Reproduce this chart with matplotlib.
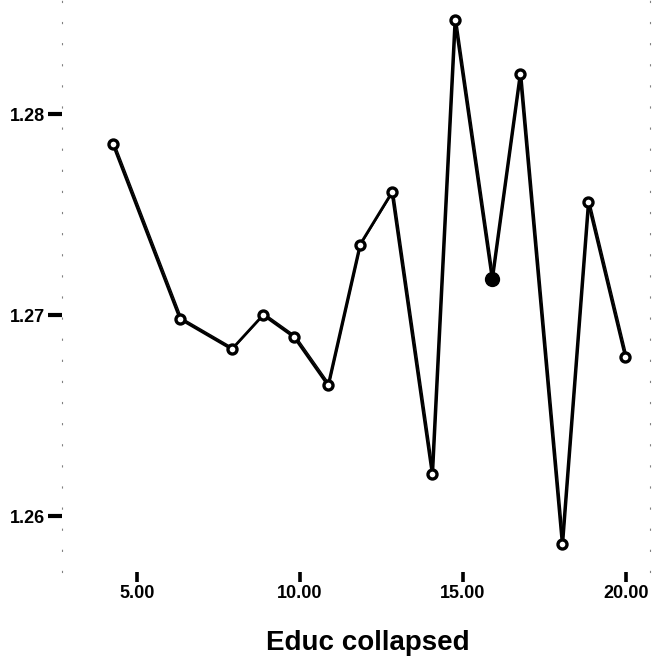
import matplotlib
matplotlib.use("Agg")
from matplotlib import pyplot as plt
from matplotlib import transforms
from matplotlib.ticker import FormatStrFormatter

# mean value per education level (educ collapsed)
educ = [4.26, 6.32, 7.91, 8.87, 9.82, 10.86, 11.84, 12.82, 14.05, 14.75, 15.89, 16.75, 18.04, 18.84, 19.98]
mean_val = [1.2785, 1.2698, 1.2683, 1.2700, 1.2689, 1.2665, 1.2735, 1.2761, 1.2621, 1.2847,
            1.2718, 1.2820, 1.2586, 1.2756, 1.2679]
filled_idx = 10  # the one level drawn as a solid dot

x_ticks = [5, 10, 15, 20]
y_ticks = [1.26, 1.27, 1.28]

plt.rcParams['font.family'] = ['Liberation Sans', 'DejaVu Sans']

fig = plt.figure(figsize=(6.62, 6.60), dpi=100)
W, H = 662, 660
ax = fig.add_axes([62 / W, (H - 572) / H, 588 / W, 572 / H])

# pixel-calibrated limits: 32.6 px per unit on x, 20100 px per unit on y
ax.set_xlim(5 + (62 - 137) / 32.6, 5 + (650 - 137) / 32.6)
ax.set_ylim(1.28 - (572 - 114) / 20100, 1.28 + 114 / 20100)

# main trace plus a faint second stroke for the doubled pen look
ax.plot(educ, mean_val, color='black', lw=2.0, zorder=2)
shift = transforms.offset_copy(ax.transData, fig=fig, x=1.5, y=1.0, units='dots')
ax.plot(educ, mean_val, color='black', lw=1.0, transform=shift, zorder=2)

open_x = [v for i, v in enumerate(educ) if i != filled_idx]
open_y = [v for i, v in enumerate(mean_val) if i != filled_idx]
ax.plot(open_x, open_y, ls='none', marker='o', ms=6.5, mfc='white', mec='black', mew=2.4, zorder=3)
ax.plot(educ[filled_idx], mean_val[filled_idx], ls='none', marker='o', ms=10,
        mfc='black', mec='black', zorder=3)

ax.set_xticks(x_ticks)
ax.set_yticks(y_ticks)
ax.xaxis.set_major_formatter(FormatStrFormatter('%.2f'))
ax.yaxis.set_major_formatter(FormatStrFormatter('%.2f'))
ax.tick_params(axis='x', direction='out', length=7, width=2.6, pad=2, labelsize=13)
ax.tick_params(axis='y', direction='out', length=10, width=3, pad=2, labelsize=13)
for lab in ax.get_xticklabels() + ax.get_yticklabels():
    lab.set_fontweight('heavy')

for side in ['top', 'bottom']:
    ax.spines[side].set_visible(False)
for side in ['left', 'right']:
    ax.spines[side].set_linestyle((0, (1, 18)))
    ax.spines[side].set_linewidth(0.8)
    ax.spines[side].set_color('0.5')

fig.text(368 / W, 1 - 643 / H, 'Educ collapsed', ha='center', va='center',
         fontsize=20, fontweight='bold')

fig.savefig('out.png', dpi=100, facecolor='white')
